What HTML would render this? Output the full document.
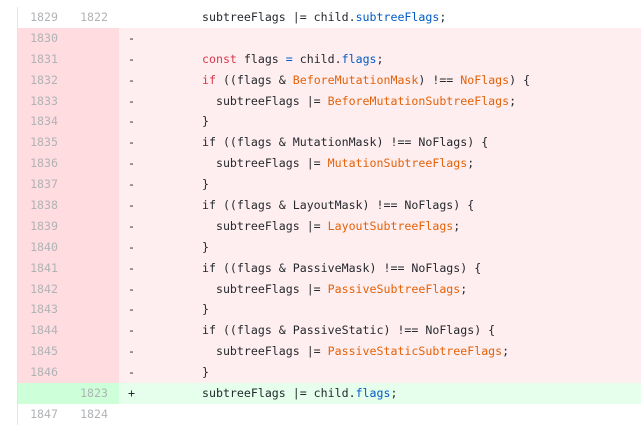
<!DOCTYPE html>
<html><head><meta charset="utf-8"><style>
body{margin:0;background:#fff;width:641px;height:426px;overflow:hidden;font-family:"DejaVu Sans Mono","Liberation Mono",monospace;font-size:11.6px;color:#24292e}
.wrap{position:absolute;left:17px;top:7px;width:640px;border-left:1px solid #e1e4e8}
.r{position:relative;height:20.9px;line-height:20.9px;white-space:pre}
.n{position:absolute;width:40px;text-align:right;color:#b0b3b6}
.o{left:0}.w{left:50px}
.g{position:absolute;left:0;top:0;bottom:0;width:101px}
.s{position:absolute;left:110px}
.c{position:absolute;left:184px}
.del{background:#ffeef0}.del .g{background:#ffdce0}
.add{background:#e6ffed}.add .g{background:#cdffd8}
.k{color:#d73a49}.t{color:#e36209}.b{color:#005cc5}
</style></head><body><div class="wrap">
<div class="r"><span class="n o">1829</span><span class="n w">1822</span><span class="c">subtreeFlags |= child.<span class="b">subtreeFlags</span>;</span></div>
<div class="r del"><div class="g"></div><span class="n o">1830</span><span class="s">-</span></div>
<div class="r del"><div class="g"></div><span class="n o">1831</span><span class="s">-</span><span class="c"><span class="k">const</span> flags <span class="b">=</span> child.<span class="b">flags</span>;</span></div>
<div class="r del"><div class="g"></div><span class="n o">1832</span><span class="s">-</span><span class="c"><span class="k">if</span> ((flags &amp; <span class="t">BeforeMutationMask</span>) !== <span class="t">NoFlags</span>) {</span></div>
<div class="r del"><div class="g"></div><span class="n o">1833</span><span class="s">-</span><span class="c">  subtreeFlags |= <span class="t">BeforeMutationSubtreeFlags</span>;</span></div>
<div class="r del"><div class="g"></div><span class="n o">1834</span><span class="s">-</span><span class="c">}</span></div>
<div class="r del"><div class="g"></div><span class="n o">1835</span><span class="s">-</span><span class="c">if ((flags &amp; MutationMask) !== NoFlags) {</span></div>
<div class="r del"><div class="g"></div><span class="n o">1836</span><span class="s">-</span><span class="c">  subtreeFlags |= <span class="t">MutationSubtreeFlags</span>;</span></div>
<div class="r del"><div class="g"></div><span class="n o">1837</span><span class="s">-</span><span class="c">}</span></div>
<div class="r del"><div class="g"></div><span class="n o">1838</span><span class="s">-</span><span class="c">if ((flags &amp; LayoutMask) !== NoFlags) {</span></div>
<div class="r del"><div class="g"></div><span class="n o">1839</span><span class="s">-</span><span class="c">  subtreeFlags |= <span class="t">LayoutSubtreeFlags</span>;</span></div>
<div class="r del"><div class="g"></div><span class="n o">1840</span><span class="s">-</span><span class="c">}</span></div>
<div class="r del"><div class="g"></div><span class="n o">1841</span><span class="s">-</span><span class="c">if ((flags &amp; PassiveMask) !== NoFlags) {</span></div>
<div class="r del"><div class="g"></div><span class="n o">1842</span><span class="s">-</span><span class="c">  subtreeFlags |= <span class="t">PassiveSubtreeFlags</span>;</span></div>
<div class="r del"><div class="g"></div><span class="n o">1843</span><span class="s">-</span><span class="c">}</span></div>
<div class="r del"><div class="g"></div><span class="n o">1844</span><span class="s">-</span><span class="c">if ((flags &amp; PassiveStatic) !== NoFlags) {</span></div>
<div class="r del"><div class="g"></div><span class="n o">1845</span><span class="s">-</span><span class="c">  subtreeFlags |= <span class="t">PassiveStaticSubtreeFlags</span>;</span></div>
<div class="r del"><div class="g"></div><span class="n o">1846</span><span class="s">-</span><span class="c">}</span></div>
<div class="r add"><div class="g"></div><span class="n w">1823</span><span class="s">+</span><span class="c">subtreeFlags |= child.<span class="b">flags</span>;</span></div>
<div class="r"><span class="n o">1847</span><span class="n w">1824</span></div>
</div></body></html>
